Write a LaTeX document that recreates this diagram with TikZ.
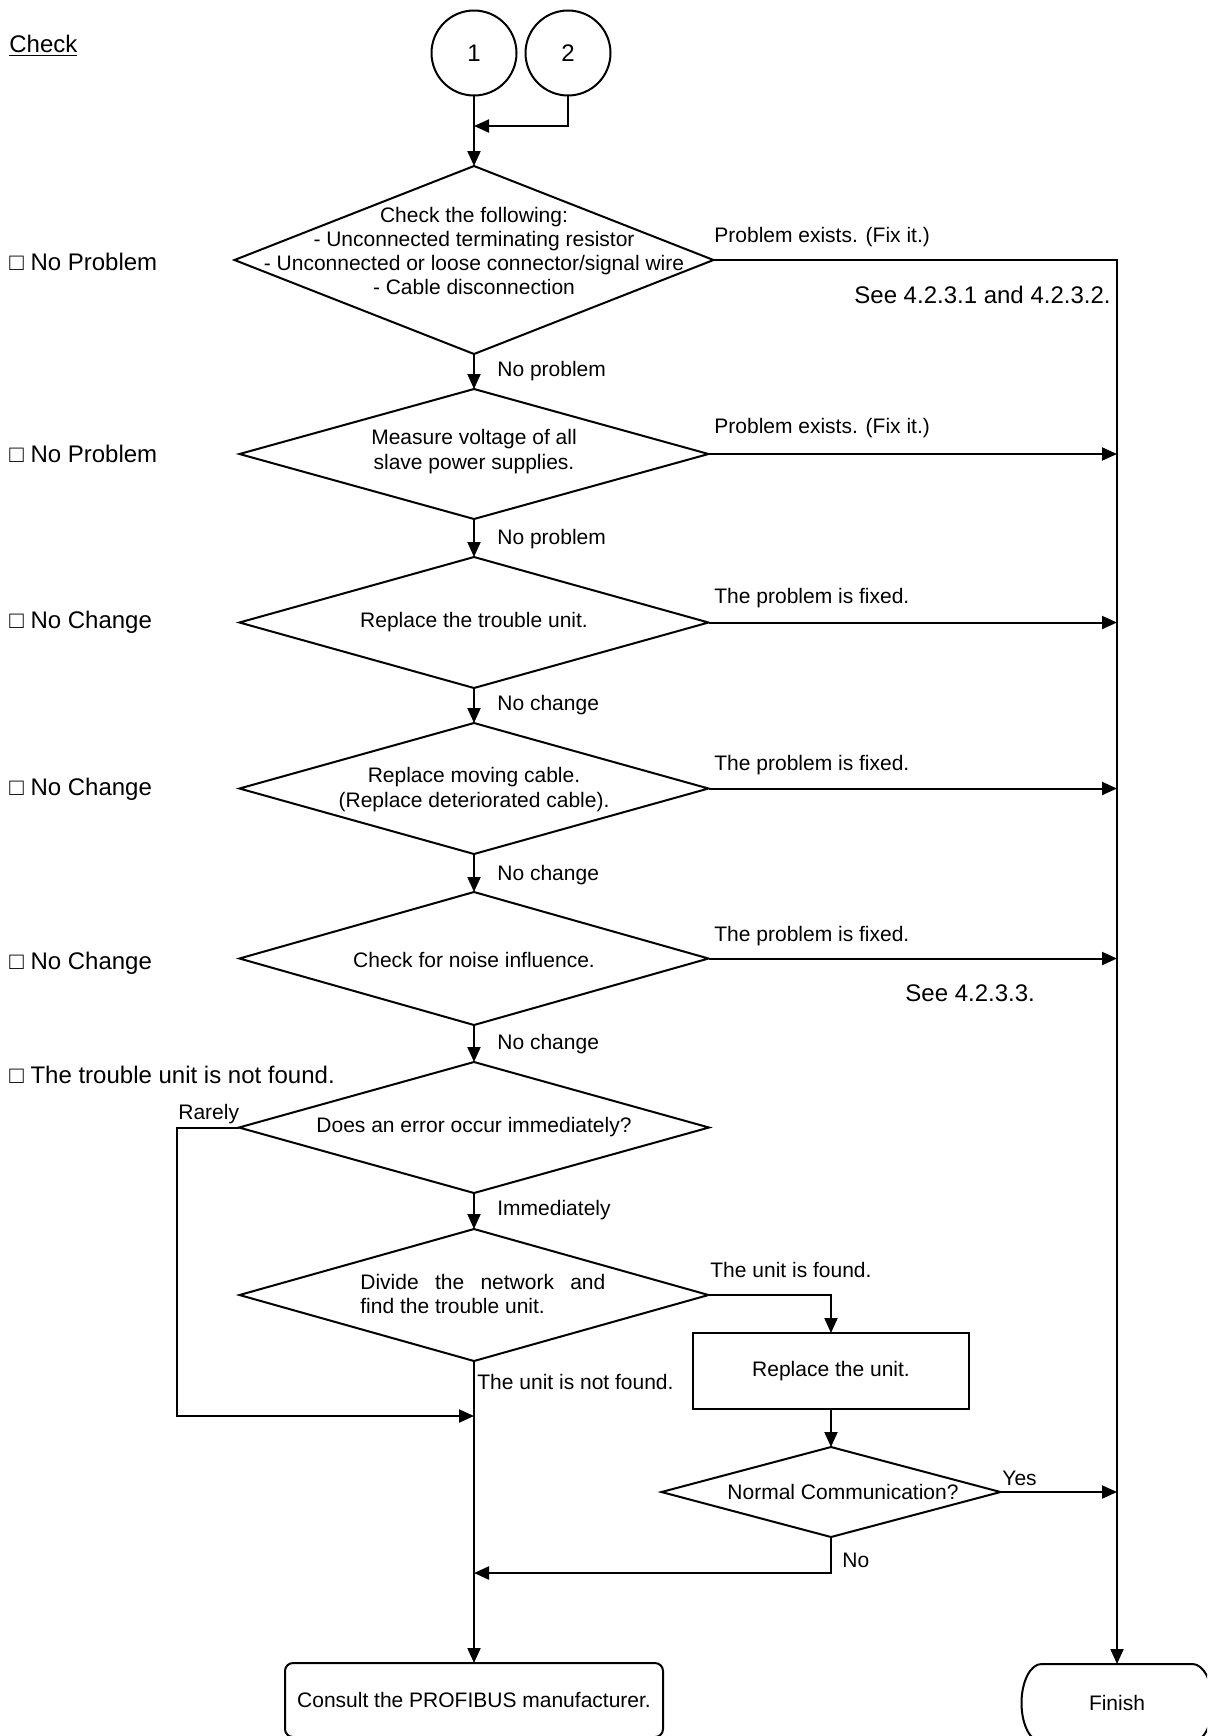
\documentclass[tikz,border=0pt]{standalone}
\usepackage{fontspec}
\setmainfont{Liberation Sans}
\usetikzlibrary{shapes.geometric,arrows.meta}
\begin{document}
\begin{tikzpicture}[x=0.5pt,y=-0.5pt,
  every node/.style={font=\fontsize{10.5}{12.15}\selectfont},
  ln/.style={line width=1pt},
  arr/.style={line width=1pt,-{Triangle[length=7.5pt,width=6.5pt]}},
  dia/.style={draw,line width=1pt,diamond,inner sep=0pt,outer sep=0pt},
  lbl/.style={inner sep=0pt,anchor=west},
  big/.style={inner sep=0pt,anchor=west,font=\fontsize{12}{14}\selectfont},
  txt/.style={inner sep=0pt,align=center},
  conn/.style={circle,draw,line width=1pt,minimum size=42.5pt,inner sep=0pt,outer sep=0pt,font=\fontsize{12}{14}\selectfont},
  box/.style={draw,line width=1pt,inner sep=0pt,outer sep=0pt}
]
\useasboundingbox (0,0) rectangle (1207,1736);
\clip (0,0) rectangle (1207,1736);

% left column
\node[big] (chk) at (9,46) {\underline{Check}};
\node[big] (s1) at (9,262) {□ No Problem};
\node[big] (s2) at (9,454) {□ No Problem};
\node[big] (s3) at (9,622) {□ No Change};
\node[big] (s4) at (9,789) {□ No Change};
\node[big] (s5) at (9,963) {□ No Change};
\node[big] (s6) at (9,1075) {□ The trouble unit is not found.};

% connectors in
\node[conn] (c1) at (474,53) {1};
\node[conn] (c2) at (568,53) {2};
\coordinate (j1) at (474,126);

% decisions
\node[dia,minimum width=239.5pt,minimum height=94pt] (d1) at (474,260) {};
\node[txt] (t1) at (474,251) {Check the following:\\- Unconnected terminating resistor\\- Unconnected or loose connector/signal wire\\- Cable disconnection};

\node[dia,minimum width=234.5pt,minimum height=65pt] (d2) at (474,454) {};
\node[txt] (t2) at (474,451.5) {Measure voltage of all\\slave power supplies.};

\node[dia,minimum width=234.5pt,minimum height=65.5pt] (d3) at (474,622.5) {};
\node[txt] (t3) at (474,622.5) {Replace the trouble unit.};

\node[dia,minimum width=234.5pt,minimum height=65.5pt] (d4) at (474,788.5) {};
\node[txt] (t4) at (474,789.5) {Replace moving cable.\\(Replace deteriorated cable).};

\node[dia,minimum width=234.5pt,minimum height=66.5pt] (d5) at (474,958.5) {};
\node[txt] (t5) at (474,960) {Check for noise influence.};

\node[dia,minimum width=235pt,minimum height=65.5pt] (d6) at (474,1127.5) {};
\node[txt] (t6) at (474,1127.5) {Does an error occur immediately?};

\node[dia,minimum width=234.5pt,minimum height=66pt] (d7) at (474,1295) {};
\node[inner sep=0pt,anchor=west,align=left] (t7) at (360,1294) {\makebox[122.5pt][s]{Divide the network and}\\find the trouble unit.};

\node[box,minimum width=138pt,minimum height=38pt] (rep) at (831,1371) {Replace the unit.};

\node[dia,minimum width=169.5pt,minimum height=45pt] (d8) at (831,1492) {};
\node[txt] (t8) at (843,1492) {Normal Communication?};

% terminals
\node[box,rounded corners=4pt,minimum width=189pt,minimum height=37pt] (cons) at (474,1700) {Consult the PROFIBUS manufacturer.};
\node[inner sep=0pt,outer sep=0pt,minimum width=95.5pt,minimum height=39pt] (fin) at (1117,1703) {Finish};
\draw[ln] ([xshift=-37.75pt]fin.north) -- ([xshift=37.75pt]fin.north)
  arc[start angle=-90,end angle=90,x radius=20,y radius=39]
  -- ([xshift=-37.75pt]fin.south)
  arc[start angle=90,end angle=270,x radius=20,y radius=39];

% flow
\draw[arr] (c1.south) -- (d1.north);
\draw[arr] (c2.south) |- (j1);
\draw[arr] (d1.south) -- (d2.north);
\draw[arr] (d2.south) -- (d3.north);
\draw[arr] (d3.south) -- (d4.north);
\draw[arr] (d4.south) -- (d5.north);
\draw[arr] (d5.south) -- (d6.north);
\draw[arr] (d6.south) -- (d7.north);
\draw[arr] (d7.south) -- (cons.north);

\draw[arr] (d1.east) -| (fin.north);
\draw[arr] (d2.east) -- (d2.east -| fin.north);
\draw[arr] (d3.east) -- (d3.east -| fin.north);
\draw[arr] (d4.east) -- (d4.east -| fin.north);
\draw[arr] (d5.east) -- (d5.east -| fin.north);
\draw[arr] (d8.east) -- (d8.east -| fin.north);

\coordinate (lx) at (177,1127.5);
\coordinate (j2) at (474,1416);
\draw[arr] (d6.west) -- (lx) |- (j2);

\draw[arr] (d7.east) -| (rep.north);
\draw[arr] (rep.south) -- (d8.north);
\coordinate (j3) at (474,1573);
\draw[arr] (d8.south) |- (j3);

% edge labels
\node[lbl] at (714,237) {Problem exists. (Fix it.)};
\node[big,anchor=east] at (1111,295) {See 4.2.3.1 and 4.2.3.2.};
\node[lbl] at (497,371) {No problem};
\node[lbl] at (714,428) {Problem exists. (Fix it.)};
\node[lbl] at (497,539) {No problem};
\node[lbl] at (714,598) {The problem is fixed.};
\node[lbl] at (497,705) {No change};
\node[lbl] at (714,765) {The problem is fixed.};
\node[lbl] at (497,875) {No change};
\node[lbl] at (714,936) {The problem is fixed.};
\node[big] at (905,993) {See 4.2.3.3.};
\node[lbl] at (497,1044) {No change};
\node[lbl] at (178,1114) {Rarely};
\node[lbl] at (497,1210) {Immediately};
\node[lbl] at (710,1270) {The unit is found.};
\node[lbl] at (477,1382) {The unit is not found.};
\node[lbl] at (1002,1478) {Yes};
\node[lbl] at (842,1560) {No};
\end{tikzpicture}
\end{document}
